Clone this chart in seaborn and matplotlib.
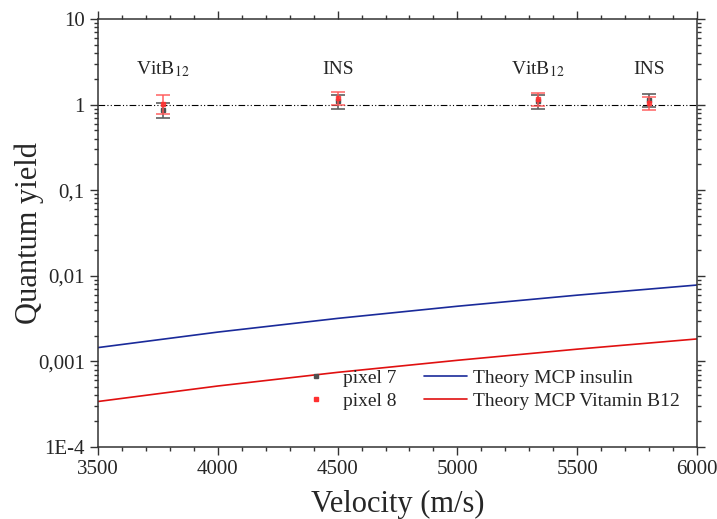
import numpy as np
import pandas as pd
import matplotlib
matplotlib.use("Agg")
import matplotlib.pyplot as plt
import matplotlib.ticker as mticker
from matplotlib.lines import Line2D
import seaborn as sns

# measured points (velocity, quantum yield, error)
vel = [3770, 4500, 5335, 5800]
labels = ["VitB$_{12}$", "INS", "VitB$_{12}$", "INS"]
qy_p7 = [0.87, 1.10, 1.10, 1.14]
err_p7 = [0.17, 0.20, 0.20, 0.19]
qy_p8 = [1.03, 1.20, 1.17, 1.05]
err_p8 = [0.25, 0.22, 0.20, 0.19]

# theory curves
v_theory = [3500, 4000, 4500, 5000, 5500, 6000]
theory_ins = [0.00145, 0.0022, 0.00318, 0.00441, 0.00594, 0.0078]
theory_b12 = [0.00034, 0.000516, 0.000745, 0.00103, 0.00139, 0.00183]

sns.set_theme(style="ticks")
plt.rcParams["font.family"] = ["Liberation Serif", "DejaVu Serif"]
plt.rcParams["mathtext.fontset"] = "stix"

fig = plt.figure(figsize=(7.17, 5.19), dpi=100)
ax = fig.add_axes([98 / 717, 1 - 447 / 519, 599 / 717, 428 / 519])

theory = pd.DataFrame({
    "v": v_theory * 2,
    "q": theory_ins + theory_b12,
    "model": ["Theory MCP insulin"] * 6 + ["Theory MCP Vitamin B12"] * 6,
})
sns.lineplot(data=theory, x="v", y="q", hue="model", ax=ax,
             palette=["#1a2a9a", "#e01010"], linewidth=1.2, legend=False)

ax.axhline(1, color="black", lw=0.8, ls=(0, (6, 2, 1, 2, 1, 2)), zorder=1)

ax.errorbar(vel, qy_p7, yerr=err_p7, fmt="s", ms=3.5, color="#505050",
            ecolor="#606060", elinewidth=1.2, capsize=5, capthick=1.2, zorder=3)
ax.errorbar(vel, qy_p8, yerr=err_p8, fmt="s", ms=3.5, color="#ff3030",
            ecolor="#ff5555", elinewidth=1.2, capsize=5, capthick=1.2, alpha=0.85, zorder=4)

for v, lab in zip(vel, labels):
    ax.text(v, 2.6, lab, ha="center", va="center", fontsize=14)

ax.set_yscale("log")
ax.set_xlim(3500, 6000)
ax.set_ylim(1e-4, 10)
ax.set_xticks([3500, 4000, 4500, 5000, 5500, 6000])
ax.xaxis.set_minor_locator(mticker.MultipleLocator(100))
ax.yaxis.set_major_locator(mticker.FixedLocator([1e-4, 1e-3, 1e-2, 1e-1, 1, 10]))
ax.yaxis.set_major_formatter(mticker.FixedFormatter(["1E-4", "0,001", "0,01", "0,1", "1", "10"]))
ax.yaxis.set_minor_locator(mticker.LogLocator(base=10, subs=np.arange(2, 10)))
ax.yaxis.set_minor_formatter(mticker.NullFormatter())

ax.tick_params(which="both", direction="out", top=True, right=True,
               labeltop=False, labelright=False, labelsize=15, width=1, color="#333333")
ax.tick_params(which="major", length=6)
ax.tick_params(which="minor", length=3)
for s in ax.spines.values():
    s.set_linewidth(1.1)
    s.set_color("#333333")

ax.set_xlabel("Velocity (m/s)", fontsize=22, labelpad=8)
ax.set_ylabel("Quantum yield", fontsize=22)
ax.yaxis.set_label_coords(-0.09, 0.5)

h = [
    Line2D([], [], marker="s", ls="none", ms=3.5, color="#505050"),
    Line2D([], [], marker="s", ls="none", ms=3.5, color="#ff3030"),
    Line2D([], [], color="#1a2a9a", lw=1.2),
    Line2D([], [], color="#e01010", lw=1.2),
]
ax.legend(h, ["pixel 7", "pixel 8", "Theory MCP insulin", "Theory MCP Vitamin B12"],
          ncol=2, loc="lower right", frameon=False, fontsize=14,
          handlelength=2.2, handletextpad=0.3, columnspacing=1.4, labelspacing=0.3,
          bbox_to_anchor=(1.0, 0.045))

fig.savefig("out.png", dpi=100)
